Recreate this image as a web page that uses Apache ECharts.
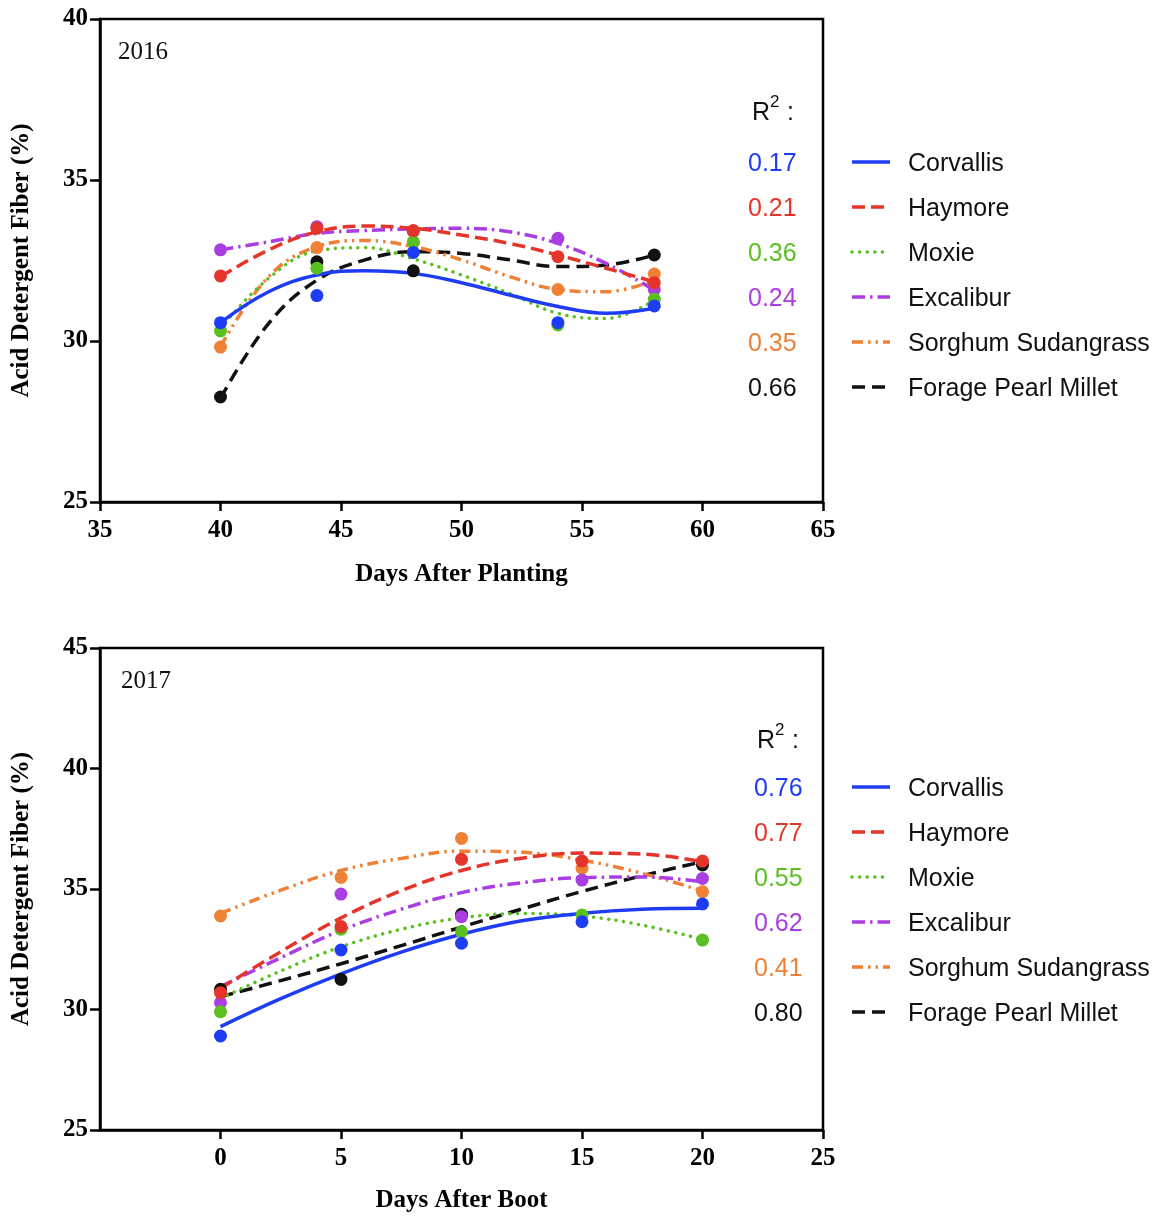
<!DOCTYPE html>
<html><head><meta charset="utf-8">
<script src="https://cdn.jsdelivr.net/npm/echarts@6/dist/echarts.min.js"></script>
<style>html,body{margin:0;padding:0;background:#fff}#c{width:1167px;height:1226px}</style>
</head><body><div id="c"></div>
<script>
// ---------- data ----------
const cultivars = ['Corvallis', 'Haymore', 'Moxie', 'Excalibur', 'Sorghum Sudangrass', 'Forage Pearl Millet'];
const r2_2016 = ['0.17', '0.21', '0.36', '0.24', '0.35', '0.66'];
const r2_2017 = ['0.76', '0.77', '0.55', '0.62', '0.41', '0.80'];

// 2016 observed points (Days After Planting)
const days2016 = [40, 44, 48, 54, 58];
const corvallis2016 = [30.57, 31.41, 32.75, 30.57, 31.09];
const haymore2016 = [32.02, 33.50, 33.43, 32.62, 31.81];
const moxie2016 = [30.31, 32.26, 33.08, 30.50, 31.30];
const excalibur2016 = [32.83, 33.55, 33.40, 33.19, 31.60];
const sorghum2016 = [29.81, 32.90, 33.05, 31.60, 32.08];
const millet2016 = [28.26, 32.46, 32.18, null, 32.67];

// 2016 fitted curves
const fitDays2016 = [40, 42, 44, 46, 48, 50, 52, 54, 56, 58];
const corvallisFit2016 = [30.57, 31.53, 32.05, 32.18, 32.10, 31.81, 31.43, 31.07, 30.86, 31.02];
const haymoreFit2016 = [32.00, 32.83, 33.39, 33.57, 33.50, 33.29, 33.03, 32.67, 32.26, 31.84];
const moxieFit2016 = [30.39, 31.95, 32.80, 32.90, 32.55, 32.05, 31.48, 30.86, 30.70, 31.27];
const excaliburFit2016 = [32.83, 33.08, 33.34, 33.43, 33.48, 33.50, 33.39, 33.03, 32.41, 31.58];
const sorghumFit2016 = [29.82, 32.00, 32.93, 33.12, 32.93, 32.52, 32.00, 31.60, 31.53, 31.89];
const milletFit2016 = [28.22, 30.55, 31.89, 32.52, 32.77, 32.72, 32.52, 32.31, 32.36, 32.67];

// 2017 observed points (Days After Boot)
const days2017 = [0, 5, 10, 15, 20];
const corvallis2017 = [28.90, 32.47, 32.75, 33.64, 34.38];
const haymore2017 = [30.70, 33.44, 36.23, 36.16, 36.16];
const moxie2017 = [29.91, 33.33, 33.23, 33.92, 32.88];
const excalibur2017 = [30.28, 34.79, 33.85, 35.37, 35.44];
const sorghum2017 = [33.88, 35.48, 37.10, 35.86, 34.89];
const millet2017 = [30.84, 31.25, 33.95, null, 36.00];

// 2017 fitted curves
const fitDays2017 = [0, 2.5, 5, 7.5, 10, 12.5, 15, 17.5, 20];
const corvallisFit2017 = [29.29, 30.45, 31.48, 32.38, 33.12, 33.68, 33.99, 34.16, 34.20];
const haymoreFit2017 = [30.88, 32.40, 33.80, 34.93, 35.77, 36.28, 36.49, 36.45, 36.13];
const moxieFit2017 = [30.46, 31.60, 32.60, 33.33, 33.80, 33.98, 33.88, 33.50, 32.91];
const excaliburFit2017 = [30.95, 32.15, 33.28, 34.16, 34.85, 35.26, 35.47, 35.50, 35.30];
const sorghumFit2017 = [33.99, 34.95, 35.77, 36.27, 36.57, 36.52, 36.20, 35.65, 34.92];
const milletFit2017 = [30.53, 31.20, 31.90, 32.65, 33.42, 34.17, 34.90, 35.55, 36.13];

// tick labels
const xTicks2017 = [0, 5, 10, 15, 20, 25];

// ---------- styles ----------
const colors = ['#1f3cf5', '#e5352b', '#59c01f', '#aa3ee2', '#ee8136', '#111111'];
const dashes = ['solid', [13, 6], [0.1, 7.5], [13, 5, 2.5, 5], [11, 5, 2.5, 5, 2.5, 5], [13, 7]];
const caps = ['butt', 'butt', 'round', 'butt', 'butt', 'butt'];

const pts2016 = [corvallis2016, haymore2016, moxie2016, excalibur2016, sorghum2016, millet2016];
const fit2016 = [corvallisFit2016, haymoreFit2016, moxieFit2016, excaliburFit2016, sorghumFit2016, milletFit2016];
const pts2017 = [corvallis2017, haymore2017, moxie2017, excalibur2017, sorghum2017, millet2017];
const fit2017 = [corvallisFit2017, haymoreFit2017, moxieFit2017, excaliburFit2017, sorghumFit2017, milletFit2017];

const SERIF = 'Liberation Serif';
const SANS = 'Liberation Sans';

function zipXY(xs, ys) { return xs.map((x, i) => ys[i] == null ? null : [x, ys[i]]).filter(d => d); }

const series = [];
function addPanel(gi, xs, pts, fxs, fits) {
  // draw in reverse order so Corvallis is on top, Forage Pearl Millet beneath
  for (let k = cultivars.length - 1; k >= 0; k--) {
    series.push({
      type: 'scatter', name: cultivars[k], xAxisIndex: gi, yAxisIndex: gi,
      data: zipXY(xs, pts[k]), symbol: 'circle', symbolSize: 13,
      itemStyle: { color: colors[k], opacity: 1 }, z: 3, silent: true
    });
    series.push({
      type: 'line', name: cultivars[k], xAxisIndex: gi, yAxisIndex: gi,
      data: zipXY(fxs, fits[k]), smooth: 0.4, showSymbol: false, symbol: 'none',
      lineStyle: { color: colors[k], width: 3.5, type: dashes[k], cap: caps[k] }, z: 3, silent: true
    });
  }
}
addPanel(0, days2016, pts2016, fitDays2016, fit2016);
addPanel(1, days2017, pts2017, fitDays2017, fit2017);

const axisLabelStyle = { color: '#000', fontFamily: SERIF, fontWeight: 'bold', fontSize: 25 };
const nameStyle = { color: '#000', fontFamily: SERIF, fontWeight: 'bold', fontSize: 25 };

function xAxis(gi, min, max, name, custom, gap) {
  const ax = {
    type: 'value', gridIndex: gi, min: min, max: max, interval: 5,
    name: name, nameLocation: 'middle', nameGap: gap, nameTextStyle: nameStyle,
    axisLine: { show: true, onZero: false, lineStyle: { color: '#000', width: 2.5 } },
    axisTick: { show: true, inside: false, length: 9, lineStyle: { color: '#000', width: 2.5 } },
    axisLabel: Object.assign({ margin: 16 }, axisLabelStyle),
    splitLine: { show: false }
  };
  if (custom) {
    ax.axisTick.customValues = custom;
    ax.axisLabel.customValues = custom;
  }
  return ax;
}
function yAxis(gi, min, max) {
  return {
    type: 'value', gridIndex: gi, min: min, max: max, interval: 5,
    name: 'Acid Detergent Fiber (%)', nameLocation: 'middle', nameGap: 66, nameRotate: 90,
    nameTextStyle: nameStyle,
    axisLine: { show: true, onZero: false, lineStyle: { color: '#000', width: 2.5 } },
    axisTick: { show: true, inside: false, length: 10, lineStyle: { color: '#000', width: 2.5 } },
    axisLabel: Object.assign({ margin: 12 }, axisLabelStyle),
    splitLine: { show: false }
  };
}

// legend + R² column via graphic
const graphic = [];
function legendBlock(yTitle, yFirst, r2vals, xVal, xR) {
  graphic.push({ type: 'text', left: xR, top: yTitle - 10, style: { text: 'R', font: '25px ' + SANS, fill: '#111' } });
  graphic.push({ type: 'text', left: xR + 18, top: yTitle - 17, style: { text: '2', font: '17px ' + SANS, fill: '#111' } });
  graphic.push({ type: 'text', left: xR + 35, top: yTitle - 10, style: { text: ':', font: '25px ' + SANS, fill: '#111' } });
  for (let k = 0; k < cultivars.length; k++) {
    const y = yFirst + 45 * k;
    graphic.push({ type: 'text', left: xVal, top: y - 10, style: { text: r2vals[k], font: '25px ' + SANS, fill: colors[k] } });
    graphic.push({ type: 'line', shape: { x1: 852, y1: y, x2: 890, y2: y },
      style: { stroke: colors[k], lineWidth: 3.5, lineDash: dashes[k] === 'solid' ? null : dashes[k], lineCap: caps[k] } });
    graphic.push({ type: 'text', left: 908, top: y - 10, style: { text: cultivars[k], font: '25px ' + SANS, fill: '#111' } });
  }
}
legendBlock(111, 162, r2_2016, 748, 752);
legendBlock(739, 787, r2_2017, 754, 757);
graphic.push({ type: 'text', left: 118, top: 40, style: { text: '2016', font: '25px ' + SERIF, fill: '#111' } });
graphic.push({ type: 'text', left: 121, top: 669, style: { text: '2017', font: '25px ' + SERIF, fill: '#111' } });

const option = {
  animation: false,
  backgroundColor: '#fff',
  grid: [
    { left: 100, top: 19, width: 723, height: 483, show: true, borderColor: '#000', borderWidth: 2.5, backgroundColor: 'transparent' },
    { left: 100, top: 648, width: 723, height: 482, show: true, borderColor: '#000', borderWidth: 2.5, backgroundColor: 'transparent' }
  ],
  xAxis: [xAxis(0, 35, 65, 'Days After Planting', null, 60), xAxis(1, -5, 25, 'Days After Boot', xTicks2017, 58)],
  yAxis: [yAxis(0, 25, 40), yAxis(1, 25, 45)],
  series: series,
  graphic: graphic
};
const chart = echarts.init(document.getElementById('c'), null, { renderer: 'canvas' });
chart.setOption(option);
</script>
</body></html>
